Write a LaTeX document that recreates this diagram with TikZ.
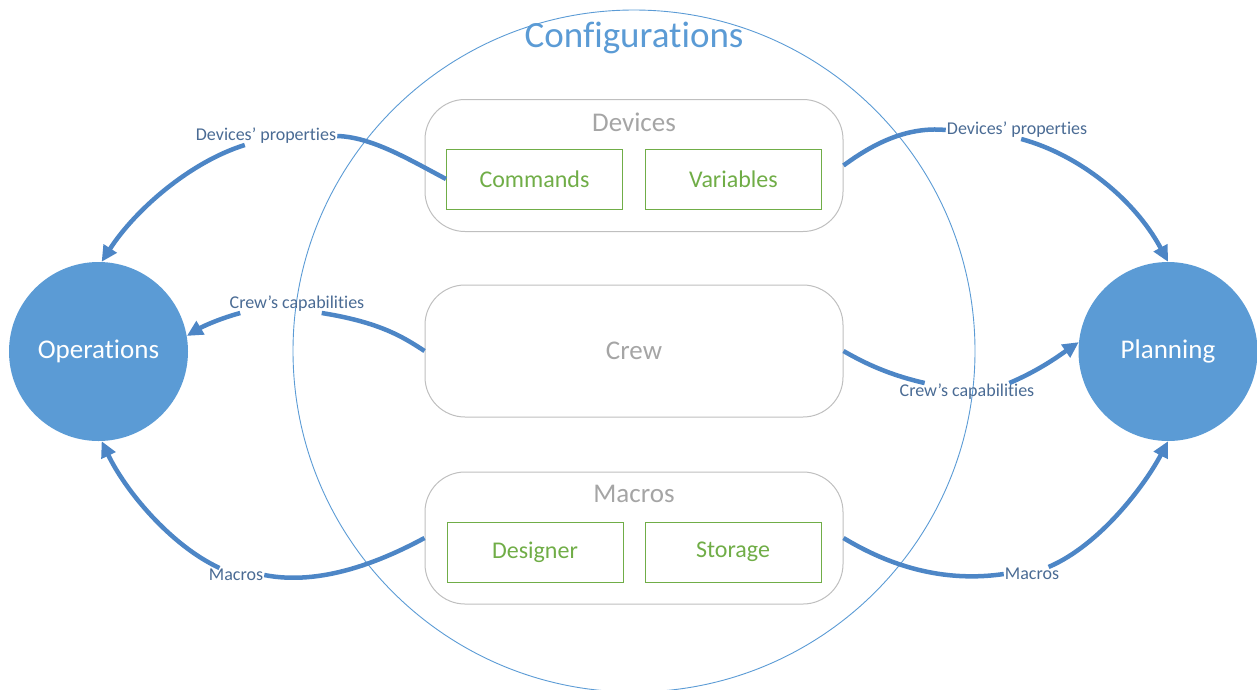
\documentclass[tikz,border=0pt]{standalone}
\usepackage{fontspec}
\setmainfont{Carlito}[Ligatures=NoCommon]
\usetikzlibrary{arrows.meta}
\definecolor{cblue}{HTML}{5B9BD5}
\definecolor{lblue}{HTML}{4D86C6}
\definecolor{ltext}{HTML}{4A6B94}
\definecolor{gtext}{HTML}{A5A5A5}
\definecolor{gbord}{HTML}{BFBFBF}
\definecolor{cgreen}{HTML}{70AD47}
\begin{document}
\begin{tikzpicture}[x=1pt,y=-1pt,
  hub/.style={circle, fill=cblue, text=white, minimum size=179pt, inner sep=0pt, font=\fontsize{27}{30}\selectfont},
  group/.style={draw=gbord, line width=1pt, rounded corners=40pt, minimum width=418pt, minimum height=132pt, inner sep=0pt},
  grouptitle/.style={text=gtext, font=\fontsize{27}{30}\selectfont, inner sep=0pt},
  item/.style={draw=cgreen, line width=1pt, text=cgreen, minimum width=176pt, minimum height=60pt, inner sep=0pt, font=\fontsize{24}{28}\selectfont},
  lbl/.style={text=ltext, font=\fontsize{18}{20}\selectfont, inner sep=1pt},
  link/.style={draw=lblue, line width=4.5pt},
  linkarrow/.style={link, -{Triangle[length=16pt,width=15pt]}},
]
\useasboundingbox (0,0) rectangle (1257,689);
\begin{scope}
\clip (0,0) rectangle (1257,689);
\node[circle, draw=cblue, line width=0.9pt, minimum size=682pt, inner sep=0pt] (conf) at (634,351) {};
\end{scope}
\node[text=cblue, font=\fontsize{37}{40}\selectfont, inner sep=0pt] (conftitle) at (634,38) {Configurations};

% hubs
\node[hub] (ops) at (98.5,351.5) {Operations};
\node[hub] (pl) at (1168,351.5) {Planning};

% groups
\node[group] (dev) at (634,165.5) {};
\node[grouptitle] (devt) at (634,122) {Devices};
\node[item] (cmd) at (534.5,179) {Commands};
\node[item] (var) at (733.5,179) {Variables};

\node[group, text=gtext, font=\fontsize{27}{30}\selectfont] (crew) at (634,351) {Crew};

\node[group] (mac) at (634,538) {};
\node[grouptitle] (mact) at (634,494) {Macros};
\node[item] (des) at (535,552) {Designer};
\node[item] (sto) at (733,552) {Storage};

% labels
\node[lbl] (l1) at (266,136) {Devices’ properties};
\node[lbl] (l2) at (1017,130) {Devices’ properties};
\node[lbl] (l3) at (297,304) {Crew’s capabilities};
\node[lbl] (l4) at (967,392) {Crew’s capabilities};
\node[lbl] (l5) at (236,575) {Macros};
\node[lbl] (l6) at (1032,574) {Macros};

% connectors
\draw[link] (cmd.west) .. controls (410,160) and (372,137) .. (l1.east);
\draw[linkarrow] (l1.203) .. controls (190,162) and (135,210) .. (ops.88);

\draw[link] (dev.east) .. controls (870,146) and (905,126) .. (l2.west);
\draw[linkarrow] (l2.-65) .. controls (1080,155) and (1135,200) .. (pl.north);

\draw[link] (crew.west) .. controls (402,336) and (378,322) .. (l3.-20);
\draw[linkarrow] (l3.189) .. controls (215,320) and (200,328) .. (ops.10);

\draw[link] (crew.east) .. controls (866,364) and (890,375) .. (l4.168);
\draw[linkarrow] (l4.12) .. controls (1040,370) and (1060,355) .. (pl.174);

\draw[link] (mac.west) .. controls (380,562) and (320,586) .. (l5.east);
\draw[linkarrow] (l5.157) .. controls (170,545) and (125,490) .. (ops.-88);

\draw[link] (mac.east) .. controls (880,560) and (935,584) .. (l6.west);
\draw[linkarrow] (l6.23) .. controls (1100,545) and (1145,485) .. (pl.south);
\end{tikzpicture}
\end{document}
